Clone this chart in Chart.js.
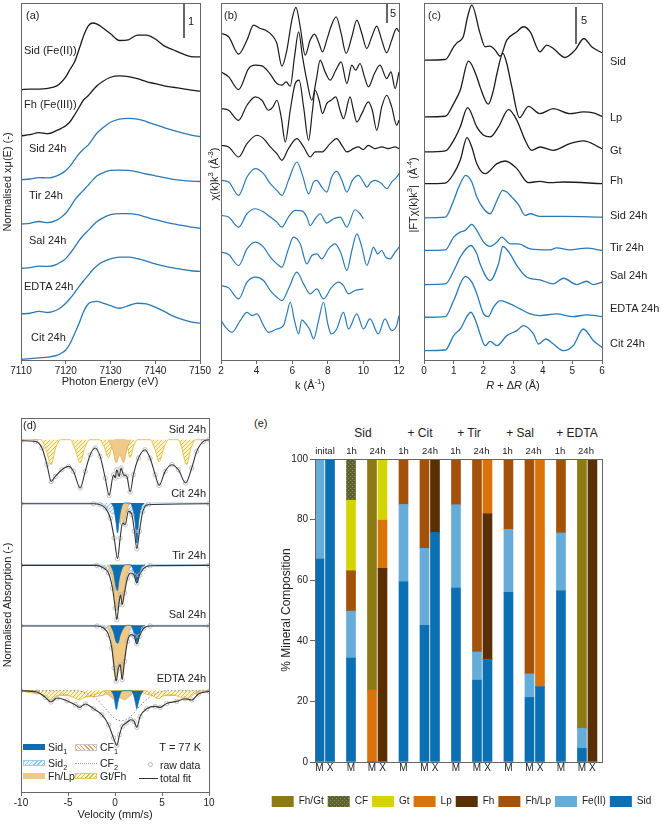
<!DOCTYPE html>
<html>
<head>
<meta charset="utf-8">
<title>Fe mineral transformation</title>
<script src="https://cdn.jsdelivr.net/npm/chart.js@4.4.1/dist/chart.umd.min.js"></script>
<style>
  html, body { margin: 0; padding: 0; background: #fff; }
  body { position: relative; width: 661px; height: 824px; overflow: hidden; font-family: "Liberation Sans", Arial, sans-serif; color: #222; }
  canvas { position: absolute; }
  .t { position: absolute; white-space: nowrap; line-height: 1; }
  .t sup, .t sub { font-size: 70%; line-height: 0; }
  .r { position: absolute; box-sizing: border-box; pointer-events: none; }
</style>
</head>
<body>
<canvas id="chartA" width="215" height="378" style="left:0;top:0"></canvas>
<canvas id="chartB" width="195" height="378" style="left:215px;top:0"></canvas>
<canvas id="chartC" width="251" height="378" style="left:410px;top:0"></canvas>
<canvas id="chartD" width="220" height="396" style="left:0;top:410px"></canvas>
<canvas id="chartE" width="399" height="377" style="left:262px;top:440px"></canvas>
<script>
// ---------- (a) XANES, normalised ----------
var energy = [7110,7112,7114,7116,7118,7119,7120,7121,7122,7123,7124,7125,7126,7127,7128,7130,7132,7134,7136,7138,7140,7142,7144,7146,7148,7150]
var xanesSid = [0,.02,.02,.04,.11,.21,.36,.58,.79,1.14,1.51,1.78,1.87,1.84,1.76,1.57,1.38,1.40,1.53,1.53,1.42,1.23,1.12,1.01,.93,.92]
var xanesFh = [0,.03,.09,.06,.15,.21,.28,.40,.59,.80,1.01,1.12,1.27,1.40,1.50,1.64,1.68,1.66,1.60,1.52,1.46,1.40,1.36,1.32,1.28,1.25]
var xanesSid24 = [0,.02,.06,.05,.11,.17,.26,.39,.56,.73,.86,.97,1.14,1.31,1.42,1.61,1.70,1.72,1.70,1.63,1.54,1.46,1.38,1.31,1.25,1.21]
var xanesTir24 = [0,.02,.07,.04,.11,.19,.30,.47,.67,.82,.95,1.08,1.23,1.35,1.42,1.50,1.51,1.50,1.46,1.40,1.35,1.30,1.25,1.22,1.20,1.19]
var xanesSal24 = [0,.02,.06,.05,.11,.18,.27,.42,.59,.78,.93,1.06,1.19,1.31,1.39,1.50,1.53,1.53,1.50,1.43,1.36,1.30,1.24,1.20,1.15,1.12]
var xanesEdta24 = [0,.02,.07,.04,.11,.19,.30,.44,.60,.77,.93,1.08,1.23,1.35,1.44,1.54,1.59,1.59,1.55,1.48,1.40,1.34,1.29,1.25,1.21,1.19]
var xanesCit24 = [0,.02,.04,.06,.11,.17,.26,.45,.73,1.01,1.34,1.55,1.61,1.62,1.59,1.50,1.43,1.50,1.57,1.55,1.46,1.34,1.21,1.12,1.05,1.01]
var xanesOffset = [7.57, 6.28, 5.05, 3.81, 2.57, 1.29, 0.02]

// ---------- (b) EXAFS chi(k)k^3, [k, value] ----------
var chiSid = [[2,.83],[2.43,0],[2.99,-4.33],[3.46,-.83],[3.83,2.92],[4.21,2.08],[4.49,1.67],[4.86,.42],[5.14,-1.67],[5.42,-7.33],[5.70,-3.33],[5.98,4.17],[6.21,7.33],[6.45,2.5],[6.73,-4.58],[7.01,-.83],[7.25,.67],[7.51,-1.67],[7.70,-3.75],[7.94,-.83],[8.19,2.67],[8.47,5.0],[8.75,.83],[9.03,-4.17],[9.35,0],[9.63,4.17],[9.91,.83],[10.19,-2.92],[10.47,0],[10.75,2.67],[11.03,-.83],[11.31,-4.0],[11.59,-.83],[11.87,2.08],[12,1.25]]
var chiLp = [[2,.83],[2.43,-.42],[2.99,-3.58],[3.55,1.67],[3.93,2.5],[4.30,2.33],[4.67,.83],[5.14,-2.08],[5.42,-2.5],[5.66,-1.67],[5.89,-2.75],[6.13,4.58],[6.36,10.83],[6.58,4.58],[6.82,-1.25],[7.10,-6.25],[7.35,-1.25],[7.57,3.75],[7.85,.83],[8.13,-1.25],[8.45,1.25],[8.75,3.33],[9.07,-2.08],[9.35,2.5],[9.57,1.25],[9.81,2.92],[10.06,-.42],[10.28,-2.92],[10.62,.42],[10.93,2.5],[11.31,-.83],[11.55,.83],[11.78,-3.33],[12,.83]]
var chiGt = [[2,.42],[2.43,0],[2.99,-2.5],[3.46,1.25],[3.93,3.33],[4.30,2.5],[4.67,0],[4.92,.83],[5.14,2.5],[5.38,-1.67],[5.61,-7.92],[5.89,0],[6.17,6.67],[6.39,7.5],[6.64,.83],[6.92,-7.5],[7.14,0],[7.29,5.0],[7.51,2.5],[7.70,-.83],[7.94,1.67],[8.19,2.5],[8.45,3.33],[8.69,0],[8.88,-2.08],[9.25,3.33],[9.44,0],[9.63,-2.92],[9.91,-.83],[10.28,2.08],[10.50,0],[10.75,-5.0],[11.03,.83],[11.31,3.75],[11.59,.83],[11.87,-3.75],[12,-2.5]]
var chiFh = [[2,.42],[2.43,0],[2.99,-2.5],[3.46,.83],[4.02,2.92],[4.39,2.08],[4.77,0],[5.14,-1.67],[5.42,-3.33],[5.79,-.42],[6.26,2.08],[6.64,0],[7.01,-2.5],[7.29,-1.25],[7.66,-1.25],[8.13,.83],[8.50,2.08],[8.79,.42],[9.07,-1.25],[9.44,-.42],[9.72,0],[9.99,-.67],[10.28,.42],[10.65,-.42],[11.03,0],[11.40,-.42],[11.78,0],[12,-.42]]
var chiSid24 = [[2,-.42],[2.43,-.83],[2.99,-4.17],[3.46,.42],[3.93,2.5],[4.39,1.25],[4.77,-1.25],[5.14,-2.92],[5.42,-4.17],[5.79,-.42],[6.26,4.17],[6.58,.83],[6.92,-3.75],[7.20,-.83],[7.38,-.42],[7.66,-2.08],[7.94,-3.33],[8.22,.42],[8.50,1.83],[8.79,-.42],[9.07,-3.33],[9.38,-.42],[9.72,.83],[10.0,-.83],[10.19,-2.08],[10.43,-.83],[10.65,-.42],[11.03,-1.25],[11.31,-2.5],[11.59,-.83],[11.87,.42],[12,1.25]]
var chiTir24 = [[2,.42],[2.43,0],[2.99,-2.5],[3.46,.83],[3.93,2.08],[4.39,1.25],[4.77,0],[5.14,-1.25],[5.42,-2.5],[5.79,0],[6.17,1.67],[6.58,1.5],[6.82,0],[7.01,-2.08],[7.29,-.42],[7.57,.83],[7.94,-1.5],[8.32,-.42],[8.69,0],[9.07,-2.5],[9.53,1.83],[9.81,.83],[10.0,-.42]]
var chiSal24 = [[2,.42],[2.43,-.17],[2.99,-2.92],[3.46,1.25],[3.93,2.92],[4.39,1.67],[4.77,-.83],[5.14,-2.5],[5.42,-3.33],[5.76,.83],[6.07,4.17],[6.45,2.5],[6.82,-2.5],[7.10,-.42],[7.38,0],[7.66,-1.25],[8.04,1.25],[8.41,2.5],[8.75,0],[9.07,-4.17],[9.35,.83],[9.63,5.0],[9.91,1.67],[10.19,-2.92],[10.38,-.83],[10.56,1.67],[10.80,0],[11.03,.83],[11.25,-.83],[11.50,-1.25],[11.78,.42],[12,1.67]]
var chiEdta24 = [[2,.42],[2.43,-.17],[2.99,-2.92],[3.46,1.25],[3.93,2.5],[4.39,1.67],[4.77,-.83],[5.14,-2.5],[5.42,-3.33],[5.83,0],[6.26,3.75],[6.64,.83],[7.01,-1.67],[7.38,-.42],[7.76,-2.92],[8.22,0],[8.60,1.25],[8.88,.42],[9.16,-1.67],[9.53,-.83],[10.0,-.42]]
var chiCit24 = [[2,1.25],[2.34,-.83],[2.62,-1.67],[3.08,1.25],[3.46,3.33],[3.74,2.5],[4.02,2.92],[4.39,0],[4.67,-1.67],[5.14,-.83],[5.51,0],[5.70,2.92],[5.89,5.83],[6.13,1.25],[6.36,-2.08],[6.54,1.42],[6.77,.42],[7.01,-1.25],[7.20,-3.33],[7.48,1.25],[7.76,5.83],[8.0,.42],[8.19,-2.08],[8.50,-.83],[8.88,3.33],[9.16,-.83],[9.63,2.92],[10.0,-.83],[10.37,1.67],[10.84,-2.08],[11.21,1.67],[11.59,-1.25],[11.87,0],[12,2.5]]
var chiOffset = [80.67, 71.08, 62.33, 53.17, 45.25, 35.67, 26.5, 18.17, 8.58]

// ---------- (c) |FT| magnitude, [R, value] ----------
var ftSid = [[0,0],[.72,.09],[1.0,1.82],[1.11,2.36],[1.33,3.27],[1.47,5.91],[1.61,7.5],[1.89,3.64],[2.06,1.82],[2.23,1.91],[2.40,1.36],[2.57,.55],[2.79,2.73],[3.13,3.86],[3.35,4.55],[3.58,3.86],[3.91,1.14],[4.14,2.05],[4.36,1.59],[4.75,.36],[5.09,1.36],[5.39,2.95],[5.65,1.82],[6,1.0]]
var ftLp = [[0,0],[.72,.09],[1.0,1.82],[1.22,3.64],[1.50,7.59],[1.78,5.45],[1.89,4.09],[2.17,1.73],[2.34,3.64],[2.46,5.91],[2.66,8.64],[2.79,7.27],[2.96,4.09],[3.22,-.09],[3.52,1.45],[3.91,.45],[4.36,1.14],[4.92,.45],[5.37,.68],[5.71,.55],[6,.09]]
var ftGt = [[0,0],[.72,.14],[1.0,1.59],[1.22,3.41],[1.47,6.05],[1.78,3.41],[2.01,2.27],[2.23,2.05],[2.51,3.41],[2.85,5.77],[3.13,4.32],[3.41,1.59],[3.63,.23],[3.91,.68],[4.36,.23],[4.92,1.14],[5.37,1.5],[6,.45]]
var ftFh = [[0,0],[.72,.09],[1.0,1.36],[1.22,3.18],[1.45,6.27],[1.61,5.0],[1.78,2.73],[2.06,1.36],[2.46,2.73],[2.74,3.09],[3.13,2.05],[3.52,.14],[3.91,.32],[4.25,.14],[4.70,.23],[6,0]]
var ftSid24 = [[0,0],[.72,.09],[1.0,2.36],[1.17,4.18],[1.41,5.77],[1.61,4.86],[1.78,2.82],[2.01,1.23],[2.23,.55],[2.46,2.36],[2.65,3.73],[2.79,3.5],[2.96,2.82],[3.18,1.82],[3.41,.32],[3.58,.55],[3.91,.18],[4.70,.18],[6,.09]]
var ftTir24 = [[0,0],[.72,.09],[1.0,1.82],[1.22,2.5],[1.39,2.73],[1.61,3.55],[1.78,2.73],[2.01,1.14],[2.23,.55],[2.46,1.14],[2.62,1.82],[2.90,.91],[3.18,.91],[3.58,.23],[4.25,.09],[4.47,.36],[4.92,.09],[5.48,.32],[6,0]]
var ftSal24 = [[0,0],[.72,.09],[1.06,2.36],[1.22,3.73],[1.58,5.32],[1.78,4.18],[1.89,2.82],[2.23,.55],[2.51,2.82],[2.66,5.18],[2.90,4.18],[3.13,2.59],[3.47,1.0],[3.91,.64],[4.36,.09],[4.70,.86],[5.15,0],[5.48,.45],[5.71,0],[6,.32]]
var ftEdta24 = [[0,0],[.72,.09],[1.0,2.27],[1.39,5.55],[1.61,4.77],[1.78,3.18],[2.01,.45],[2.17,.09],[2.34,1.36],[2.57,2.27],[2.90,1.82],[3.24,1.14],[3.58,.45],[3.91,.23],[4.47,.45],[5.03,.09],[5.48,.32],[6,.09]]
var ftCit24 = [[0,0],[.72,.09],[1.0,2.05],[1.22,2.95],[1.58,5.23],[1.78,3.64],[1.89,2.27],[2.06,.68],[2.23,1.27],[2.46,.68],[2.79,2.05],[3.13,2.73],[3.35,3.41],[3.69,2.27],[3.86,.91],[4.11,1.59],[4.36,.91],[4.70,0],[5.03,.68],[5.37,2.95],[5.71,1.36],[6,.45]]
var ftOffset = [40.82, 33.09, 28.32, 24.0, 19.36, 14.91, 10.27, 5.82, 1.27]

// ---------- (d) Mossbauer 77 K, [velocity, absorption] ----------
var velFitSid = [[-10,-.1],[-8.48,-.17],[-7.77,-.83],[-7.24,-2.5],[-6.78,-4.17],[-6.35,-3.67],[-5.65,-3.0],[-4.94,-2.67],[-4.41,-3.17],[-3.70,-4.83],[-3.17,-3.17],[-2.64,-1.5],[-2.11,-.83],[-1.58,-1.67],[-1.04,-3.83],[-.62,-5.57],[-.16,-3.5],[.02,-3.83],[.19,-3.0],[.44,-3.67],[.65,-2.83],[.90,-3.5],[1.26,-3.67],[1.61,-5.23],[1.96,-3.5],[2.50,-1.83],[3.20,-1.0],[3.73,-1.83],[4.27,-3.5],[4.69,-4.57],[5.33,-3.17],[6.04,-2.5],[6.74,-3.0],[7.52,-4.33],[8.16,-2.83],[8.69,-1.17],[9.40,-.17],[10,0]]
var velGtSid = [[-10,0],[-7.9,0],[-7.4,-.8],[-6.8,-2.5],[-6.3,-.8],[-5.8,0],[-4.8,0],[-4.3,-.8],[-3.7,-2.3],[-3.2,-.8],[-2.7,0],[-1.7,0],[-1.2,-.6],[-.7,-1.8],[-.3,-.6],[0,0],[1.1,0],[1.3,-.6],[1.6,-1.8],[2.0,-.6],[2.4,0],[3.7,0],[4.2,-.8],[4.7,-2.2],[5.2,-.8],[5.7,0],[6.7,0],[7.1,-.8],[7.6,-2.5],[8.1,-.8],[8.6,0],[10,0]]
var velFhLpSid = [[-.7,0],[-.3,-.8],[.15,-2.3],[.5,-1.5],[.9,-2.3],[1.3,-.8],[1.7,0]]

var velFitCit = [[-10,-.07],[-2.28,-.07],[-1.58,-.17],[-1.04,-.5],[-.51,-1.5],[-.09,-3.5],[.27,-5.57],[.55,-3.5],[.80,-2.0],[1.08,-2.17],[1.43,-.83],[1.79,-1.17],[2.07,-2.83],[2.32,-4.57],[2.60,-2.83],[2.96,-.83],[3.56,-.17],[10,-.07]]
var velSid1Cit = [[-.4,0],[-.1,-.6],[.12,-2.0],[.27,-3.0],[.45,-1.6],[.7,-.4],[1.0,0],[1.6,0],[1.9,-.6],[2.15,-2.0],[2.32,-4.0],[2.5,-2.0],[2.75,-.6],[3.1,0]]
var velSid2Cit = [[-10,0],[-1.5,0],[-.8,-.6],[-.2,-1.1],[.5,-1.1],[1.2,-.8],[1.9,-1.1],[2.6,-1.0],[3.2,-.5],[3.8,0],[10,0]]
var velFhLpCit = [[-.1,0],[.2,-1.0],[.5,-2.0],[.7,-1.4],[.95,-2.0],[1.2,-1.0],[1.5,0]]

var velFitTir = [[-10,-.07],[-1.93,-.07],[-1.22,-.33],[-.69,-.83],[-.27,-2.33],[.02,-4.33],[.19,-5.5],[.41,-4.0],[.58,-3.0],[.76,-4.0],[1.01,-2.83],[1.33,-1.33],[1.68,-.83],[2.04,-1.07],[2.32,-1.83],[2.60,-1.07],[3.03,-.4],[3.73,-.1],[10,-.07]]
var velSid1Tir = [[-.5,0],[-.15,-.8],[.1,-2.2],[.25,-2.6],[.45,-1.4],[.8,-.3],[1.2,0],[1.6,0],[1.95,-.5],[2.15,-1.2],[2.32,-1.8],[2.5,-1.2],[2.75,-.4],[3.2,0]]
var velSid2Tir = [[-10,0],[-1.6,0],[-1.0,-.3],[-.3,-.6],[.5,-.6],[1.2,-.5],[2.0,-.6],[2.7,-.5],[3.3,-.2],[3.9,0],[10,0]]
var velFhLpTir = [[-.8,0],[-.4,-.9],[-.05,-3.0],[.2,-4.6],[.45,-3.0],[.58,-2.8],[.78,-3.8],[1.0,-2.4],[1.35,-.8],[1.8,0]]

var velFitSal = [[-10,-.07],[-1.93,-.07],[-1.22,-.27],[-.69,-.93],[-.34,-2.27],[-.09,-4.27],[.12,-5.6],[.37,-4.27],[.55,-3.93],[.76,-5.43],[1.01,-3.6],[1.33,-1.6],[1.68,-.93],[2.04,-1.1],[2.32,-1.87],[2.60,-1.1],[3.03,-.33],[3.73,-.07],[10,-.07]]
var velSid1Sal = [[-.5,0],[-.15,-.7],[.1,-1.6],[.3,-1.8],[.55,-1.0],[.9,-.3],[1.3,0],[1.6,0],[1.95,-.5],[2.15,-1.3],[2.32,-1.8],[2.5,-1.3],[2.75,-.5],[3.2,0]]
var velSid2Sal = [[-10,0],[-1.6,0],[-1.0,-.3],[-.3,-.5],[.5,-.5],[1.2,-.4],[2.0,-.5],[2.7,-.4],[3.3,-.2],[3.9,0],[10,0]]
var velFhLpSal = [[-.8,0],[-.4,-1.4],[-.1,-3.8],[.12,-5.4],[.35,-4.0],[.55,-3.8],[.76,-5.2],[1.0,-3.4],[1.35,-1.2],[1.8,0]]

var velFitEdta = [[-10,0],[-8.3,-.13],[-7.42,-.67],[-6.81,-1.13],[-6.18,-.73],[-5.12,-1.0],[-4.23,-1.4],[-3.77,-1.67],[-3.17,-1.33],[-2.28,-1.8],[-1.4,-2.4],[-.69,-3.4],[-.16,-4.73],[.19,-5.47],[.48,-4.4],[.76,-3.57],[1.19,-3.23],[1.68,-2.9],[2.04,-3.07],[2.32,-3.67],[2.67,-2.57],[3.38,-1.8],[4.27,-1.57],[4.80,-1.67],[5.5,-1.27],[6.57,-1.07],[7.45,-.8],[8.16,-.93],[8.87,-.33],[10,-.07]]
var velSid1Edta = [[-.4,0],[-.1,-.6],[.05,-1.5],[.15,-1.9],[.3,-1.2],[.55,-.3],[.9,0],[1.7,0],[2.0,-.5],[2.2,-1.3],[2.32,-1.8],[2.45,-1.3],[2.7,-.5],[3.0,0]]
var velFhLpEdta = [[-1.2,0],[-.6,-.5],[0,-.9],[.5,-.7],[1.0,-.9],[1.6,-.5],[2.2,0]]
var velCf2Edta = [[-10,0],[-4,0],[-3,-.3],[-2,-.8],[-1,-1.8],[0,-2.8],[.8,-3.0],[1.6,-2.6],[2.6,-1.6],[3.6,-.7],[4.6,-.2],[5.5,0],[10,0]]
var velGtEdta = [[-10,0],[-8.4,0],[-7.6,-.5],[-6.8,-.9],[-6.1,-.5],[-5.5,-.3],[-4.6,-.6],[-3.8,-.9],[-3.1,-.6],[-2.3,-.4],[-1.6,-.2],[-1,0],[3.2,0],[4.0,-.5],[4.6,-.8],[5.2,-.5],[6.0,-.4],[6.8,-.6],[7.5,-.9],[8.2,-.5],[9.0,0],[10,0]]
var velCf1Edta = [[-10,0],[-9,-.2],[-7,-.4],[-5,-.5],[-3,-.6],[-1.5,-.5],[-.5,-.2],[0,0],[2.5,0],[3.5,-.4],[5.5,-.5],[7.5,-.4],[9,-.2],[10,0]]
var velOffset = [35.23, 28.9, 22.73, 16.67, 10.13]

// ---------- (e) mineral composition (%) ----------
var minerals = ['Sid', 'Fe(II)', 'Fh/Lp', 'Fh', 'Lp', 'Gt', 'CF', 'Fh/Gt']
var barSlots = [0, 1, 3, 5, 6, 8, 10, 11, 13, 15, 16, 18, 20, 21, 23, 25, 26]
var barMethod = ['M','X','M','M','X','M','M','X','M','M','X','M','M','X','M','M','X']
var pctSid  = [67, 100, 34.3, 0, 0, 59.5, 45.1, 75.8, 57.4, 27.0, 33.8, 56.0, 21.3, 24.8, 56.5, 4.5, 0]
var pctFe2  = [33, 0, 15.5, 0, 0, 25.5, 25.4, 0, 27.5, 9.3, 0, 20.8, 7.8, 0, 19.1, 6.7, 0]
var pctFhLp = [0, 0, 13.2, 0, 0, 15.0, 29.5, 0, 15.1, 63.7, 0, 23.2, 70.9, 0, 24.4, 0, 0]
var pctFh   = [0, 0, 0, 0, 63.9, 0, 0, 24.2, 0, 0, 48.1, 0, 0, 0, 0, 0, 100]
var pctLp   = [0, 0, 0, 23.7, 15.9, 0, 0, 0, 0, 0, 18.1, 0, 0, 75.2, 0, 0, 0]
var pctGt   = [0, 0, 23.4, 0, 20.2, 0, 0, 0, 0, 0, 0, 0, 0, 0, 0, 0, 0]
var pctCF   = [0, 0, 13.6, 0, 0, 0, 0, 0, 0, 0, 0, 0, 0, 0, 0, 0, 0]
var pctFhGt = [0, 0, 0, 76.3, 0, 0, 0, 0, 0, 0, 0, 0, 0, 0, 0, 88.8, 0]

var FONT = '"Liberation Sans", Arial, sans-serif'
var BLACK = '#1b1b1b'
var BLUE = '#2a7ab8'
var AXIS = '#666'
Chart.defaults.font.family = FONT
Chart.defaults.color = '#222'

function hatch(line, bg) {
  var c = document.createElement('canvas')
  c.width = 4; c.height = 4
  var g = c.getContext('2d')
  g.fillStyle = bg; g.fillRect(0, 0, 4, 4)
  g.strokeStyle = line; g.lineWidth = 1
  g.beginPath()
  g.moveTo(0, 4); g.lineTo(4, 0)
  g.moveTo(-1, 1); g.lineTo(1, -1)
  g.moveTo(3, 5); g.lineTo(5, 3)
  g.stroke()
  return g.createPattern(c, 'repeat')
}

function dots(bg, dot) {
  var c = document.createElement('canvas')
  c.width = 4; c.height = 4
  var g = c.getContext('2d')
  g.fillStyle = bg; g.fillRect(0, 0, 4, 4)
  g.fillStyle = dot
  g.fillRect(0, 0, 1, 1); g.fillRect(2, 2, 1, 1)
  return g.createPattern(c, 'repeat')
}

function curve(list, off, color, extra) {
  var ds = {
    data: list.map(function (p) { return { x: p[0], y: p[1] + off } }),
    borderColor: color,
    borderWidth: 1.3,
    pointRadius: 0,
    cubicInterpolationMode: 'monotone',
    fill: false
  }
  for (var k in extra) ds[k] = extra[k]
  return ds
}

function xAxis(min, max, step, h) {
  return {
    type: 'linear', min: min, max: max,
    ticks: { stepSize: step, color: '#222', font: { size: 10 }, padding: 1, autoSkip: false, maxRotation: 0,
      callback: function (v) { return String(v) } },
    grid: { drawOnChartArea: false, drawTicks: true, tickLength: 4, color: AXIS },
    border: { display: true, color: AXIS },
    afterFit: function (s) { s.height = h }
  }
}

function spectraChart(id, pad, xs, yMax, datasets) {
  return new Chart(document.getElementById(id), {
    type: 'line',
    data: { datasets: datasets },
    options: {
      animation: false, responsive: false, events: [],
      layout: { padding: pad },
      plugins: { legend: { display: false }, tooltip: { enabled: false } },
      scales: { x: xs, y: { type: 'linear', min: 0, max: yMax, display: false } }
    }
  })
}

//-------------
//- (a) XANES -
//-------------
var xanesAll = [xanesSid, xanesFh, xanesSid24, xanesTir24, xanesSal24, xanesEdta24, xanesCit24]
spectraChart('chartA', { left: 21, right: 15, top: 3, bottom: 0 }, xAxis(7110, 7150, 10, 18), 10,
  xanesAll.map(function (vals, i) {
    var list = energy.map(function (e, j) { return [e, vals[j]] })
    return curve(list, xanesOffset[i], i < 2 ? BLACK : BLUE)
  }))

//-------------
//- (b) EXAFS -
//-------------
var chiAll = [chiSid, chiLp, chiGt, chiFh, chiSid24, chiTir24, chiSal24, chiEdta24, chiCit24]
spectraChart('chartB', { left: 6, right: 11, top: 3, bottom: 0 }, xAxis(2, 12, 2, 18), 89.1,
  chiAll.map(function (list, i) { return curve(list, chiOffset[i], i < 4 ? BLACK : BLUE, { borderWidth: 1.2 }) }))

//----------
//- (c) FT -
//----------
var ftAll = [ftSid, ftLp, ftGt, ftFh, ftSid24, ftTir24, ftSal24, ftEdta24, ftCit24]
spectraChart('chartC', { left: 14, right: 59, top: 3, bottom: 0 }, xAxis(0, 6, 1, 18), 48.6,
  ftAll.map(function (list, i) { return curve(list, ftOffset[i], i < 4 ? BLACK : BLUE) }))

//------------------
//- (d) Mossbauer  -
//------------------
var pSid2 = hatch('#8cc4ea', '#eef6fc')
var pGt = hatch('#e2bf3a', '#fbf4d6')
var pCf1 = hatch('#e6a548', '#fff7ea')
var SID1 = '#0b6db5'
var FHLP = '#efc987'

function fitSet(list, off) { return curve(list, off, '#333', { borderWidth: 1.1 }) }
function rawSet(list, off) {
  return curve(list, off, 'rgba(0,0,0,0)', { showLine: false, pointRadius: 2.2, pointBorderWidth: 0.8,
    pointBorderColor: '#b5b5b5', pointBackgroundColor: 'rgba(255,255,255,0)' })
}
function fillSet(list, off, bg, line) {
  return curve(list, off, line, { borderWidth: 0.8, fill: { value: off }, backgroundColor: bg })
}

var dSets = []
// drawn top-most first
var fits = [velFitSid, velFitCit, velFitTir, velFitSal, velFitEdta]
fits.forEach(function (f, i) { dSets.push(fitSet(f, velOffset[i])) })
fits.forEach(function (f, i) { dSets.push(rawSet(f, velOffset[i])) })
dSets.push(fillSet(velSid1Cit, velOffset[1], SID1, SID1))
dSets.push(fillSet(velSid1Tir, velOffset[2], SID1, SID1))
dSets.push(fillSet(velSid1Sal, velOffset[3], SID1, SID1))
dSets.push(fillSet(velSid1Edta, velOffset[4], SID1, SID1))
dSets.push(fillSet(velFhLpSid, velOffset[0], FHLP, '#e2ad58'))
dSets.push(fillSet(velFhLpCit, velOffset[1], FHLP, '#e2ad58'))
dSets.push(fillSet(velFhLpTir, velOffset[2], FHLP, '#e2ad58'))
dSets.push(fillSet(velFhLpSal, velOffset[3], FHLP, '#e2ad58'))
dSets.push(fillSet(velFhLpEdta, velOffset[4], FHLP, '#e2ad58'))
dSets.push(curve(velCf2Edta, velOffset[4], '#8a8a8a', { borderWidth: 1, borderDash: [1.5, 2] }))
dSets.push(fillSet(velSid2Cit, velOffset[1], pSid2, '#8cc4ea'))
dSets.push(fillSet(velSid2Tir, velOffset[2], pSid2, '#8cc4ea'))
dSets.push(fillSet(velSid2Sal, velOffset[3], pSid2, '#8cc4ea'))
dSets.push(fillSet(velGtSid, velOffset[0], pGt, '#e3b82c'))
dSets.push(fillSet(velGtEdta, velOffset[4], pGt, '#e3b82c'))
dSets.push(fillSet(velCf1Edta, velOffset[4], pCf1, '#e6a548'))

spectraChart('chartD', { left: 21, right: 11, top: 8, bottom: 0 }, xAxis(-10, 10, 5, 14), 37.4, dSets)

//------------------------
//- (e) MINERAL BAR CHART -
//------------------------
var pctAll = [pctSid, pctFe2, pctFhLp, pctFh, pctLp, pctGt, pctCF, pctFhGt]
var mineralColors = ['#0b6fb4', '#66acd8', '#a3520b', '#5b2f04', '#d9730a', '#d5d400', dots('#5d6230', '#8c8f4a'), '#8d7a13']

var barChartE = new Chart(document.getElementById('chartE'), {
  type: 'bar',
  data: {
    datasets: minerals.map(function (m, i) {
      return {
        label: m,
        data: barSlots.map(function (s, j) { return { x: s, y: pctAll[i][j] } }),
        backgroundColor: mineralColors[i],
        borderWidth: 0,
        barThickness: 9
      }
    })
  },
  options: {
    animation: false, responsive: false, events: [],
    layout: { padding: { left: 0, right: 0, top: 19, bottom: 0 } },
    plugins: {
      tooltip: { enabled: false },
      legend: {
        position: 'bottom', reverse: true,
        labels: { boxWidth: 22, boxHeight: 11, padding: 4, color: '#222', font: { size: 10 } }
      }
    },
    scales: {
      x: {
        type: 'linear', stacked: true, offset: false, min: -0.43, max: 26.91,
        grid: { display: false, drawTicks: false },
        border: { display: true, color: AXIS },
        afterBuildTicks: function (s) { s.ticks = barSlots.map(function (v) { return { value: v } }) },
        ticks: { autoSkip: false, maxRotation: 0, padding: 0, color: '#222', font: { size: 10 },
          callback: function (v) { var i = barSlots.indexOf(v); return i < 0 ? '' : barMethod[i] } },
        afterFit: function (s) { s.height = 30 }
      },
      y: {
        stacked: true, min: 0, max: 100,
        ticks: { stepSize: 20, padding: 2, color: '#222', font: { size: 10 } },
        grid: { drawOnChartArea: false, drawTicks: true, tickLength: 5, color: AXIS },
        border: { display: true, color: AXIS },
        afterFit: function (s) { s.width = 53 }
      },
      // empty right-hand scale that only reserves room, so the legend can use the full width
      yRight: {
        position: 'right', display: true,
        grid: { display: false }, border: { display: false }, ticks: { display: false },
        afterFit: function (s) { s.width = 59 }
      }
    }
  }
})

//-----------------
//- text & frames -
//-----------------
function label(html, x, y, align, size, rotate) {
  var d = document.createElement('div')
  d.className = 't'
  d.innerHTML = html
  d.style.fontSize = (size || 11) + 'px'
  d.style.left = x + 'px'
  d.style.top = y + 'px'
  var tx = align === 'l' ? '0' : align === 'r' ? '-100%' : '-50%'
  d.style.transform = 'translate(' + tx + ',-50%)' + (rotate ? ' rotate(-90deg)' : '')
  document.body.appendChild(d)
}
function rect(l, t, w, h, css) {
  var d = document.createElement('div')
  d.className = 'r'
  d.style.cssText = 'left:' + l + 'px;top:' + t + 'px;width:' + w + 'px;height:' + h + 'px;' + (css || '')
  document.body.appendChild(d)
}

var frameCss = 'border:1px solid ' + AXIS + ';'
rect(21, 3, 180, 358, frameCss)
rect(221, 3, 179, 358, frameCss)
rect(424, 3, 179, 358, frameCss)
rect(21, 418, 189, 375, frameCss)
var ea = barChartE.chartArea
rect(262 + ea.left, 440 + ea.top, ea.right - ea.left + 1, ea.bottom - ea.top + 1, frameCss)

// scale bars
rect(183, 3, 1.5, 35, 'background:#666;')
label('1', 188, 21, 'l', 11)
rect(386, 4, 1.5, 19, 'background:#666;')
label('5', 390, 13, 'l', 11)
rect(575, 7, 1.5, 37, 'background:#666;')
label('5', 581, 20, 'l', 11)

// panel letters
label('(a)', 26, 15, 'l', 11)
label('(b)', 224, 15, 'l', 11)
label('(c)', 428, 15, 'l', 11)
label('(d)', 23, 425, 'l', 11)
label('(e)', 254, 423, 'l', 11)

// axis titles
label('Photon Energy (eV)', 110, 381, 'c', 11)
label('k (Å<sup>-1</sup>)', 310, 385, 'c', 11)
label('<i>R</i> + Δ<i>R</i> (Å)', 513, 385, 'c', 11)
label('Velocity (mm/s)', 115, 814, 'c', 11)
label('Normalised xμ(E) (-)', 7, 182, 'c', 11, true)
label('χ(k)k<sup>3</sup> (Å<sup>-3</sup>)', 214, 174, 'c', 11, true)
label('|FTχ(k)k<sup>3</sup>|&nbsp; (Å<sup>-4</sup>)', 413, 195, 'c', 11, true)
label('Normalised Absorption (-)', 7, 605, 'c', 11, true)
label('% Mineral Composition', 286, 610, 'c', 12, true)

// (a) curve names
label('Sid (Fe(II))', 24, 50, 'l', 11)
label('Fh (Fe(III))', 24, 104, 'l', 11)
label('Sid 24h', 29, 148, 'l', 11)
label('Tir 24h', 29, 195, 'l', 11)
label('Sal 24h', 29, 240, 'l', 11)
label('EDTA 24h', 24, 286, 'l', 11)
label('Cit 24h', 31, 337, 'l', 11)

// (c) curve names
var cNames = ['Sid', 'Lp', 'Gt', 'Fh', 'Sid 24h', 'Tir 24h', 'Sal 24h', 'EDTA 24h', 'Cit 24h']
var cY = [61, 117, 150, 180, 215, 247, 275, 308, 343]
cNames.forEach(function (n, i) { label(n, 610, cY[i], 'l', 11) })

// (d) spectrum names
label('Sid 24h', 206, 429, 'r', 11)
label('Cit 24h', 206, 493, 'r', 11)
label('Tir 24h', 206, 555, 'r', 11)
label('Sal 24h', 206, 614, 'r', 11)
label('EDTA 24h', 206, 678, 'r', 11)

// (d) legend
rect(23, 744, 22, 6, 'background:' + SID1 + ';')
label('Sid<sub>1</sub>', 48, 747, 'l', 10.5)
rect(23, 760, 22, 6, 'border:1px solid #9ccbec;background:repeating-linear-gradient(135deg,#8cc4ea 0 1px,#eef6fc 1px 3px);')
label('Sid<sub>2</sub>', 48, 763, 'l', 10.5)
rect(23, 773, 22, 6, 'background:' + FHLP + ';')
label('Fh/Lp', 48, 776, 'l', 10.5)
rect(75, 744, 22, 7, 'border:1px solid #c8c8c8;background:repeating-linear-gradient(45deg,#e6a548 0 1px,#fff 1px 3px);')
label('CF<sub>1</sub>', 100, 747, 'l', 10.5)
rect(75, 763, 22, 1, 'border-top:1px dotted #999;')
label('CF<sub>2</sub>', 100, 763, 'l', 10.5)
rect(75, 773, 22, 6, 'border:1px solid #e8c860;background:repeating-linear-gradient(135deg,#e2bf3a 0 1px,#fbf4d6 1px 3px);')
label('Gt/Fh', 100, 776, 'l', 10.5)
label('T = 77 K', 201, 747, 'r', 11)
rect(148, 762, 5, 5, 'border:1px solid #b5b5b5;border-radius:50%;')
label('raw data', 160, 765, 'l', 10.5)
rect(139, 778, 19, 1.3, 'background:#333;')
label('total fit', 160, 778, 'l', 10.5)

// (e) group labels
var gNames = ['Sid', '+ Cit', '+ Tir', '+ Sal', '+ EDTA']
var gX = [363, 420, 469, 520, 577]
gNames.forEach(function (n, i) { label(n, gX[i], 433, 'c', 12) })
var sNames = ['inital', '1h', '24h', '1h', '24h', '1h', '24h', '1h', '24h', '1h', '24h']
var sX = [325, 351.5, 377.5, 403.5, 430, 455.5, 481.5, 507.5, 533.5, 560, 586]
sNames.forEach(function (n, i) { label(n, sX[i], 451, 'c', 9.5) })
</script>
</body>
</html>
